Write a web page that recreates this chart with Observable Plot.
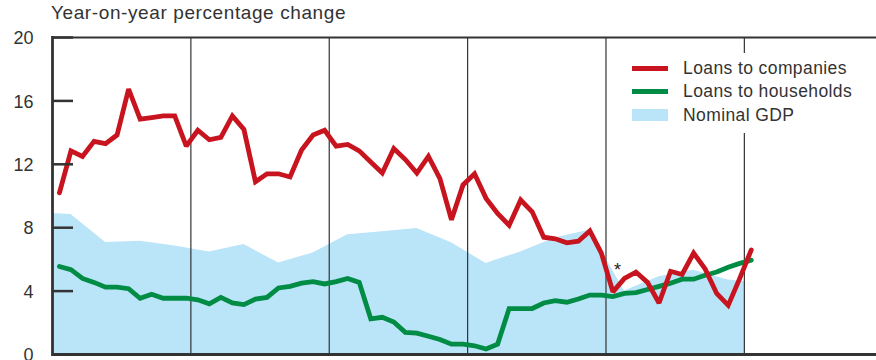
<!DOCTYPE html>
<html>
<head>
<meta charset="utf-8">
<script src="https://cdn.jsdelivr.net/npm/d3@7"></script>
<script src="https://cdn.jsdelivr.net/npm/@observablehq/plot@0.6"></script>
<style>
  html, body { margin: 0; padding: 0; background: #fff; }
  #wrap { position: relative; width: 876px; height: 360px; font-family: "Liberation Sans", Arial, sans-serif; color: #333; }
  #title { position: absolute; left: 51px; top: 2px; font-size: 19px; letter-spacing: 0.6px; color: #333; white-space: nowrap; }
  #legend { position: absolute; left: 622px; top: 53px; width: 250px; height: 80px; background: #fff; }
  .row { position: absolute; left: 0; height: 23px; display: flex; align-items: center; font-size: 17.5px; letter-spacing: 0.4px; color: #333; white-space: nowrap; }
  .sw { width: 36px; margin-left: 10px; margin-right: 15px; }
</style>
</head>
<body>
<div id="wrap">
  <div id="title">Year-on-year percentage change</div>
  <div id="chart"></div>
  <div id="legend"></div>
</div>
<script>
// Month index (0 = first monthly observation)
const months = d3.range(61);

// Loans to companies, % y/y (monthly)
const companies = [10.2, 12.85, 12.5, 13.45, 13.3, 13.85, 16.75, 14.85, 14.95, 15.05, 15.05,
  13.15, 14.15, 13.55, 13.7, 15.05, 14.2, 10.9, 11.4, 11.4, 11.2, 12.9, 13.85, 14.15,
  13.15, 13.25, 12.85, 12.15, 11.45, 13.0, 12.3, 11.45, 12.5, 11.1, 8.5, 10.7,
  11.4, 9.85, 8.9, 8.15, 9.75, 9.0, 7.4, 7.3, 7.05, 7.15, 7.8, 6.4,
  3.95, 4.8, 5.2, 4.55, 3.25, 5.25, 5.05, 6.4, 5.4, 3.85, 3.1, 4.8, 6.6];

// Loans to households, % y/y (monthly)
const households = [5.55, 5.35, 4.8, 4.55, 4.25, 4.25, 4.15, 3.55, 3.8, 3.55, 3.55,
  3.55, 3.45, 3.2, 3.6, 3.25, 3.15, 3.5, 3.6, 4.2, 4.3, 4.5, 4.6, 4.45,
  4.6, 4.8, 4.55, 2.25, 2.35, 2.05, 1.4, 1.35, 1.15, 0.95, 0.65, 0.65,
  0.55, 0.35, 0.65, 2.9, 2.9, 2.9, 3.25, 3.4, 3.3, 3.5, 3.75, 3.75,
  3.65, 3.85, 3.9, 4.1, 4.3, 4.5, 4.75, 4.75, 5.0, 5.2, 5.5, 5.75, 5.95];

// Nominal GDP, % y/y (quarterly, on the same month index)
const gdpMonths = [-2, 1, 4, 7, 10, 13, 16, 19, 22, 25, 28, 31, 34, 37, 40, 43, 46, 49, 52, 55, 58, 59.4];
const gdpValues = [8.95, 8.84, 7.07, 7.15, 6.85, 6.47, 6.94, 5.77, 6.41, 7.55, 7.74, 7.95, 7.05, 5.74, 6.47, 7.35, 7.85, 4.0, 4.9, 5.31, 4.7, 4.6];

// Year boundaries (vertical lines), tick labels and annotation
const yearLines = [11.4, 23.4, 35.4, 47.4, 59.4];
const yTicks = [0, 4, 8, 12, 16, 20];
const notes = [{x: 48.4, y: 5.3, text: "*"}];

const colors = {companies: "#c8141e", households: "#008c44", gdp: "#bae4f8"};

const lineRows = (vals) => months.map((m, i) => ({x: m, y: vals[i]}));
const gdpRows = gdpMonths.map((m, i) => ({x: m, y: gdpValues[i]}));

const chart = Plot.plot({
  width: 876,
  height: 360,
  marginTop: 37,
  marginBottom: 6,
  marginLeft: 52,
  marginRight: 0,
  style: {fontFamily: "Liberation Sans, Arial, sans-serif", background: "white"},
  x: {domain: [-0.6, 70.86], axis: null},
  y: {domain: [0, 20], label: null, axis: null},
  marks: [
    Plot.areaY(gdpRows, {x: "x", y: "y", fill: colors.gdp, clip: true}),
    Plot.ruleX(yearLines, {stroke: "#333", strokeWidth: 1.2}),
    Plot.line(lineRows(households), {x: "x", y: "y", stroke: colors.households, strokeWidth: 4.8, strokeLinejoin: "miter", strokeMiterlimit: 2}),
    Plot.line(lineRows(companies), {x: "x", y: "y", stroke: colors.companies, strokeWidth: 4.8, strokeLinejoin: "miter", strokeMiterlimit: 2}),
    Plot.text(notes, {x: "x", y: "y", text: "text", fontSize: 18, fill: "#222"}),
    Plot.ruleY([0], {stroke: "#333", strokeWidth: 3}),
    Plot.ruleY([20], {stroke: "#333", strokeWidth: 2.2}),
    Plot.frame({anchor: "left", stroke: "#333", strokeWidth: 2.8}),
    Plot.axisY({anchor: "left", ticks: yTicks, tickSize: 21, dx: 21, tickFormat: () => "", stroke: "#333", strokeWidth: 2.5}),
    Plot.axisY({anchor: "left", ticks: yTicks, tickSize: 0, tickPadding: 19, fontSize: 18, fill: "#333", dy: 1})
  ]
});
document.getElementById("chart").appendChild(chart);

// Legend
const legendItems = [
  {label: "Loans to companies", color: colors.companies, kind: "line"},
  {label: "Loans to households", color: colors.households, kind: "line"},
  {label: "Nominal GDP", color: colors.gdp, kind: "box"}
];
const legend = document.getElementById("legend");
legendItems.forEach((d, i) => {
  const row = document.createElement("div");
  row.className = "row";
  row.style.top = (4 + i * 23.3) + "px";
  const sw = document.createElement("div");
  sw.className = "sw";
  sw.style.background = d.color;
  sw.style.height = d.kind === "line" ? "5px" : "12px";
  row.appendChild(sw);
  const t = document.createElement("span");
  t.textContent = d.label;
  row.appendChild(t);
  legend.appendChild(row);
});
</script>
</body>
</html>
